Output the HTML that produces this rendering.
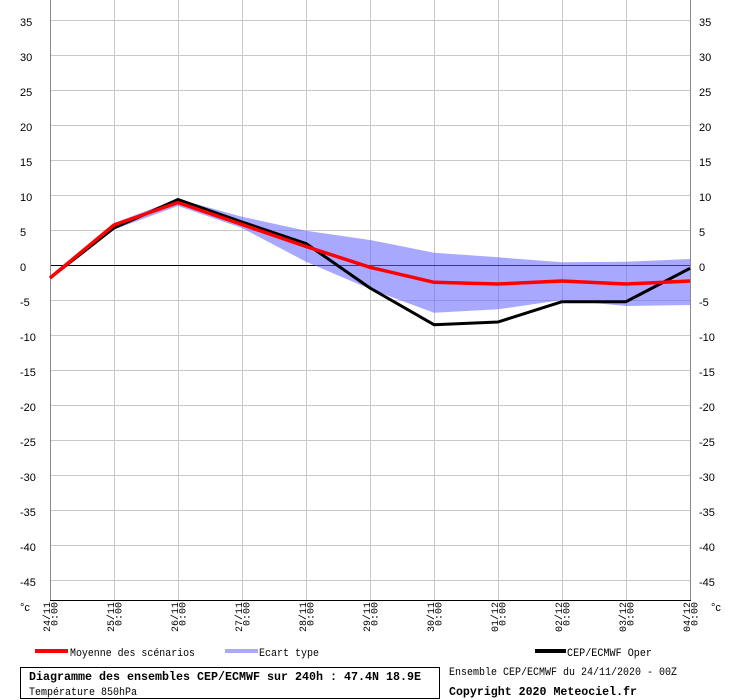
<!DOCTYPE html>
<html>
<head>
<meta charset="utf-8">
<style>
  html, body { margin: 0; padding: 0; background: #ffffff; }
  svg { display: block; }
  .yl { font-family: "Liberation Sans", sans-serif; font-size: 11px; fill: #000; }
  .xl { font-family: "Liberation Mono", monospace; font-size: 10px; fill: #000; }
  .lg { font-family: "Liberation Mono", monospace; font-size: 11px; fill: #000; }
  .bd { font-family: "Liberation Mono", monospace; font-size: 12px; font-weight: bold; fill: #000; }
</style>
</head>
<body>
<svg width="740" height="700" viewBox="0 0 740 700" xmlns="http://www.w3.org/2000/svg">
  <rect x="0" y="0" width="740" height="700" fill="#ffffff"/>

  <!-- vertical grid -->
  <g stroke="#c8c8c8" stroke-width="1" shape-rendering="crispEdges">
    <line x1="114.5" y1="0" x2="114.5" y2="600"/>
    <line x1="178.5" y1="0" x2="178.5" y2="600"/>
    <line x1="242.5" y1="0" x2="242.5" y2="600"/>
    <line x1="306.5" y1="0" x2="306.5" y2="600"/>
    <line x1="370.5" y1="0" x2="370.5" y2="600"/>
    <line x1="434.5" y1="0" x2="434.5" y2="600"/>
    <line x1="498.5" y1="0" x2="498.5" y2="600"/>
    <line x1="562.5" y1="0" x2="562.5" y2="600"/>
    <line x1="626.5" y1="0" x2="626.5" y2="600"/>
  </g>
  <!-- horizontal grid -->
  <g stroke="#c8c8c8" stroke-width="1" shape-rendering="crispEdges">
    <line x1="50" y1="20.5" x2="690" y2="20.5"/>
    <line x1="50" y1="55.5" x2="690" y2="55.5"/>
    <line x1="50" y1="90.5" x2="690" y2="90.5"/>
    <line x1="50" y1="125.5" x2="690" y2="125.5"/>
    <line x1="50" y1="160.5" x2="690" y2="160.5"/>
    <line x1="50" y1="195.5" x2="690" y2="195.5"/>
    <line x1="50" y1="230.5" x2="690" y2="230.5"/>
    <line x1="50" y1="300.5" x2="690" y2="300.5"/>
    <line x1="50" y1="335.5" x2="690" y2="335.5"/>
    <line x1="50" y1="370.5" x2="690" y2="370.5"/>
    <line x1="50" y1="405.5" x2="690" y2="405.5"/>
    <line x1="50" y1="440.5" x2="690" y2="440.5"/>
    <line x1="50" y1="475.5" x2="690" y2="475.5"/>
    <line x1="50" y1="510.5" x2="690" y2="510.5"/>
    <line x1="50" y1="545.5" x2="690" y2="545.5"/>
    <line x1="50" y1="580.5" x2="690" y2="580.5"/>
  </g>
  <!-- zero line -->
  <line x1="50" y1="265.5" x2="690" y2="265.5" stroke="#000" stroke-width="1" shape-rendering="crispEdges"/>

  <!-- axes -->
  <line x1="50.5" y1="0" x2="50.5" y2="600" stroke="#888888" stroke-width="1" shape-rendering="crispEdges"/>
  <line x1="690.5" y1="0" x2="690.5" y2="600" stroke="#888888" stroke-width="1" shape-rendering="crispEdges"/>
  <line x1="50" y1="600.5" x2="691" y2="600.5" stroke="#000" stroke-width="1" shape-rendering="crispEdges"/>

  <!-- ecart type band -->
  <polygon fill="#6464ff" fill-opacity="0.56"
    points="50,277 114,223 178,199 242,216.7 306,230.7 370,240 434,252.7 498,257.3 562,262.3 626,261.7 690,259 690,305 626,306 562,300 498,309.3 434,312.7 370,289 306,261.7 242,228 178,206 114,229.5 50,279"/>

  <!-- oper -->
  <polyline fill="none" stroke="#000" stroke-width="3" stroke-linejoin="round"
    points="50,278 114,228 178,199.5 242,222 306,243.5 370,288 434,324.7 498,322 562,301.7 626,301.7 690,268.3"/>
  <!-- mean -->
  <polyline fill="none" stroke="#ff0000" stroke-width="3.5" stroke-linejoin="round"
    points="50,278 114,225 178,202.5 242,224.5 306,246.5 370,267.3 434,282.3 498,284 562,281 626,284 690,281"/>

  <!-- left y labels -->
  <g class="yl">
    <text x="20" y="26">35</text>
    <text x="20" y="61">30</text>
    <text x="20" y="96">25</text>
    <text x="20" y="131">20</text>
    <text x="20" y="166">15</text>
    <text x="20" y="201">10</text>
    <text x="20" y="236">5</text>
    <text x="20" y="271">0</text>
    <text x="20" y="306">-5</text>
    <text x="20" y="341">-10</text>
    <text x="20" y="376">-15</text>
    <text x="20" y="411">-20</text>
    <text x="20" y="446">-25</text>
    <text x="20" y="481">-30</text>
    <text x="20" y="516">-35</text>
    <text x="20" y="551">-40</text>
    <text x="20" y="586">-45</text>
    <text x="20" y="611">°c</text>
  </g>
  <!-- right y labels -->
  <g class="yl">
    <text x="699" y="26">35</text>
    <text x="699" y="61">30</text>
    <text x="699" y="96">25</text>
    <text x="699" y="131">20</text>
    <text x="699" y="166">15</text>
    <text x="699" y="201">10</text>
    <text x="699" y="236">5</text>
    <text x="699" y="271">0</text>
    <text x="699" y="306">-5</text>
    <text x="699" y="341">-10</text>
    <text x="699" y="376">-15</text>
    <text x="699" y="411">-20</text>
    <text x="699" y="446">-25</text>
    <text x="699" y="481">-30</text>
    <text x="699" y="516">-35</text>
    <text x="699" y="551">-40</text>
    <text x="699" y="586">-45</text>
    <text x="711" y="611">°c</text>
  </g>

  <!-- x labels (rotated) -->
  <g class="xl" text-anchor="end">
    <text transform="translate(50,602) rotate(-90)" textLength="30" lengthAdjust="spacingAndGlyphs">24/11</text>
    <text transform="translate(57.5,602) rotate(-90)" textLength="24" lengthAdjust="spacingAndGlyphs">0:00</text>
    <text transform="translate(114,602) rotate(-90)" textLength="30" lengthAdjust="spacingAndGlyphs">25/11</text>
    <text transform="translate(121.5,602) rotate(-90)" textLength="24" lengthAdjust="spacingAndGlyphs">0:00</text>
    <text transform="translate(178,602) rotate(-90)" textLength="30" lengthAdjust="spacingAndGlyphs">26/11</text>
    <text transform="translate(185.5,602) rotate(-90)" textLength="24" lengthAdjust="spacingAndGlyphs">0:00</text>
    <text transform="translate(242,602) rotate(-90)" textLength="30" lengthAdjust="spacingAndGlyphs">27/11</text>
    <text transform="translate(249.5,602) rotate(-90)" textLength="24" lengthAdjust="spacingAndGlyphs">0:00</text>
    <text transform="translate(306,602) rotate(-90)" textLength="30" lengthAdjust="spacingAndGlyphs">28/11</text>
    <text transform="translate(313.5,602) rotate(-90)" textLength="24" lengthAdjust="spacingAndGlyphs">0:00</text>
    <text transform="translate(370,602) rotate(-90)" textLength="30" lengthAdjust="spacingAndGlyphs">29/11</text>
    <text transform="translate(377.5,602) rotate(-90)" textLength="24" lengthAdjust="spacingAndGlyphs">0:00</text>
    <text transform="translate(434,602) rotate(-90)" textLength="30" lengthAdjust="spacingAndGlyphs">30/11</text>
    <text transform="translate(441.5,602) rotate(-90)" textLength="24" lengthAdjust="spacingAndGlyphs">0:00</text>
    <text transform="translate(498,602) rotate(-90)" textLength="30" lengthAdjust="spacingAndGlyphs">01/12</text>
    <text transform="translate(505.5,602) rotate(-90)" textLength="24" lengthAdjust="spacingAndGlyphs">0:00</text>
    <text transform="translate(562,602) rotate(-90)" textLength="30" lengthAdjust="spacingAndGlyphs">02/12</text>
    <text transform="translate(569.5,602) rotate(-90)" textLength="24" lengthAdjust="spacingAndGlyphs">0:00</text>
    <text transform="translate(626,602) rotate(-90)" textLength="30" lengthAdjust="spacingAndGlyphs">03/12</text>
    <text transform="translate(633.5,602) rotate(-90)" textLength="24" lengthAdjust="spacingAndGlyphs">0:00</text>
    <text transform="translate(690,602) rotate(-90)" textLength="30" lengthAdjust="spacingAndGlyphs">04/12</text>
    <text transform="translate(697.5,602) rotate(-90)" textLength="24" lengthAdjust="spacingAndGlyphs">0:00</text>
  </g>

  <!-- legend -->
  <rect x="35" y="649" width="33" height="4" fill="#ff0000"/>
  <text class="lg" x="70" y="656" textLength="125" lengthAdjust="spacingAndGlyphs">Moyenne des scénarios</text>
  <rect x="225" y="649" width="33" height="4" fill="#a8a8ff"/>
  <text class="lg" x="259" y="656" textLength="60" lengthAdjust="spacingAndGlyphs">Ecart type</text>
  <rect x="535" y="649" width="31" height="4" fill="#000"/>
  <text class="lg" x="567" y="656" textLength="85" lengthAdjust="spacingAndGlyphs">CEP/ECMWF Oper</text>

  <!-- title box -->
  <rect x="20.5" y="667.5" width="419" height="31" fill="none" stroke="#000" stroke-width="1" shape-rendering="crispEdges"/>
  <text class="bd" x="29" y="680" textLength="392" lengthAdjust="spacingAndGlyphs">Diagramme des ensembles CEP/ECMWF sur 240h : 47.4N 18.9E</text>
  <text class="lg" x="29" y="695" textLength="108" lengthAdjust="spacingAndGlyphs">Température 850hPa</text>

  <!-- footer right -->
  <text class="lg" x="449" y="675" textLength="228" lengthAdjust="spacingAndGlyphs">Ensemble CEP/ECMWF du 24/11/2020 - 00Z</text>
  <text class="bd" x="449" y="695" textLength="188" lengthAdjust="spacingAndGlyphs">Copyright 2020 Meteociel.fr</text>
</svg>
</body>
</html>
